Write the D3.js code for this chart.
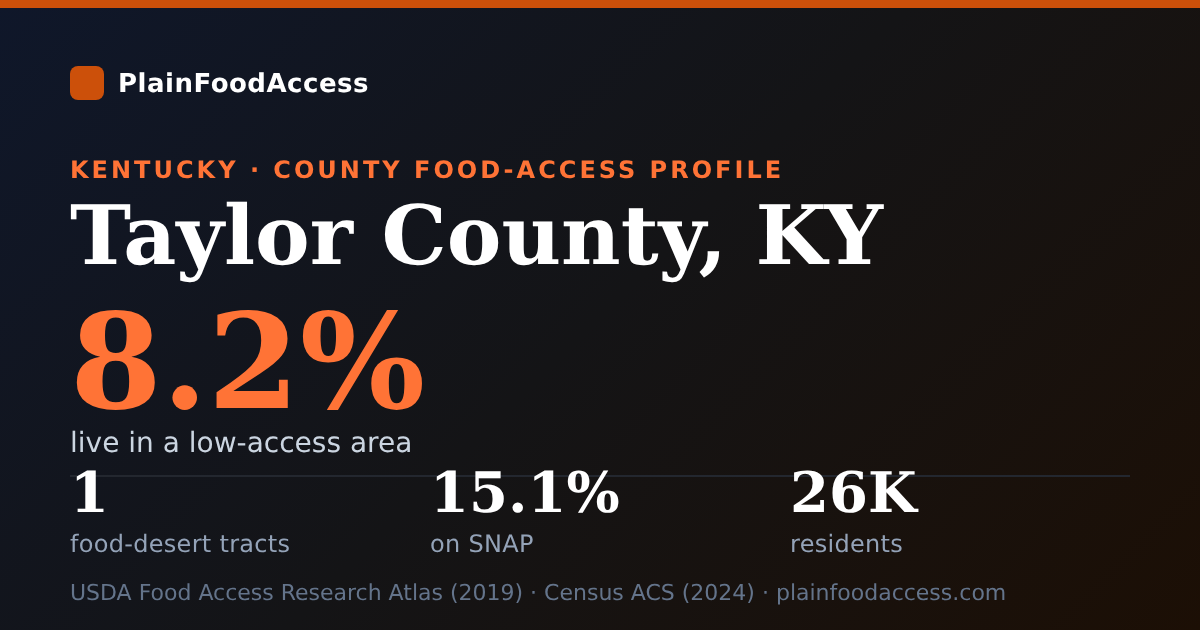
<!DOCTYPE html>
<html>
<head>
<meta charset="utf-8">
<script src="https://cdn.jsdelivr.net/npm/d3@7"></script>
<style>
  html, body { margin: 0; padding: 0; background: #111; }
  svg { display: block; }
  text { text-rendering: geometricPrecision; }
  .labels { will-change: transform; }
</style>
</head>
<body>
<svg id="card"></svg>
<script>
const brandName = 'PlainFoodAccess'
const eyebrow = 'KENTUCKY · COUNTY FOOD-ACCESS PROFILE'
const county = 'Taylor County, KY'
const headlineValue = '8.2%'
const headlineLabel = 'live in a low-access area'
const statValues = ['1', '15.1%', '26K']
const statLabels = ['food-desert tracts', 'on SNAP', 'residents']
const sourceLine = 'USDA Food Access Research Atlas (2019) · Census ACS (2024) · plainfoodaccess.com'

const width = 1200
const height = 630
const sans = '"DejaVu Sans", sans-serif'
const serif = '"DejaVu Serif", serif'

const svg = d3.select('#card').attr('width', width).attr('height', height)

const grad = svg.append('defs').append('linearGradient')
  .attr('id', 'bg')
  .attr('gradientUnits', 'userSpaceOnUse')
  .attr('x1', 142.5).attr('y1', -142.5)
  .attr('x2', 1057.5).attr('y2', 772.5)
grad.append('stop').attr('offset', '0%').attr('stop-color', '#0f172a')
grad.append('stop').attr('offset', '50%').attr('stop-color', '#141416')
grad.append('stop').attr('offset', '100%').attr('stop-color', '#1c0f05')

svg.append('rect').attr('width', width).attr('height', height).attr('fill', 'url(#bg)')
svg.append('rect').attr('width', width).attr('height', 8).attr('fill', '#cc500a')

svg.append('rect')
  .attr('x', 70).attr('y', 66).attr('width', 34).attr('height', 34).attr('rx', 8)
  .attr('fill', '#cc500a')

svg.append('rect').attr('x', 70).attr('y', 475).attr('width', 1060).attr('height', 2).attr('fill', '#23272f')

const labels = svg.append('g').attr('class', 'labels')

function label (text, x, y, size, fill, opts = {}) {
  return labels.append('text')
    .attr('x', x).attr('y', y)
    .attr('font-family', opts.family || sans)
    .attr('font-size', size)
    .attr('font-weight', opts.weight || 400)
    .attr('letter-spacing', opts.spacing || 0)
    .attr('fill', fill)
    .text(text)
}

label(brandName, 118, 92, 26, '#ffffff', { weight: 700, spacing: 0.5 })
label(eyebrow, 70, 178, 24, '#ff7336', { weight: 700, spacing: 3 })
label(county, 70, 264, 82, '#ffffff', { family: serif, weight: 700 })
label(headlineValue, 70, 408, 132, '#ff7336', { family: serif, weight: 700 })
label(headlineLabel, 70, 451.5, 28, '#cbd5e1')

const statX = d3.scalePoint().domain(d3.range(statValues.length)).range([70, 790])

statValues.forEach((v, i) => {
  label(v, statX(i), 512, 56, '#ffffff', { family: serif, weight: 700 })
  label(statLabels[i], statX(i), 552, 24, '#94a3b8', { spacing: 0.3 })
})

label(sourceLine, 70, 600, 22, '#64748b')
</script>
</body>
</html>
